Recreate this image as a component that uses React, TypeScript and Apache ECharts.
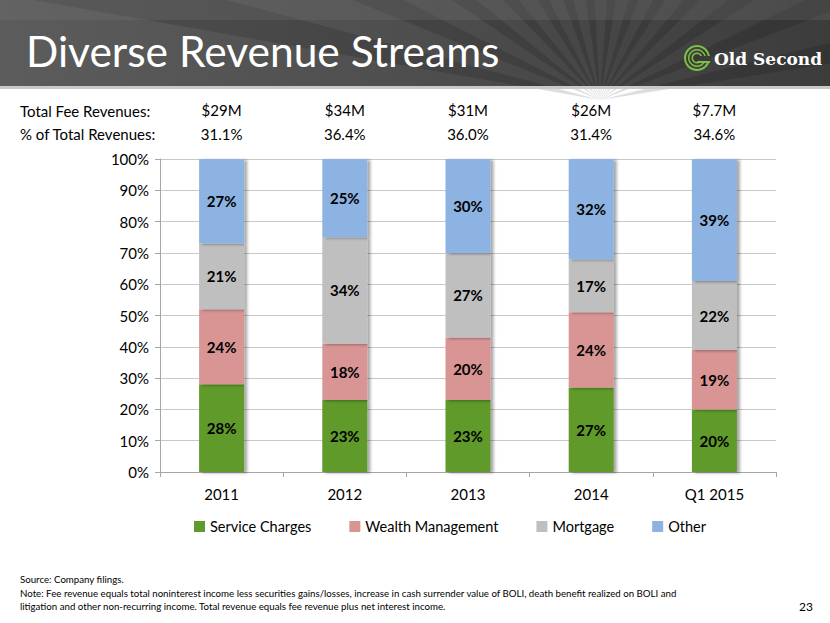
import React, { useEffect, useRef } from "react";
import * as echarts from "echarts";

const categories = ["2011", "2012", "2013", "2014", "Q1 2015"];
const serviceCharges = [28, 23, 23, 27, 20];
const wealthManagement = [24, 18, 20, 24, 19];
const mortgage = [21, 34, 27, 17, 22];
const other = [27, 25, 30, 32, 39];
const totalFeeRevenues = ["$29M", "$34M", "$31M", "$26M", "$7.7M"];
const pctOfTotalRevenues = ["31.1%", "36.4%", "36.0%", "31.4%", "34.6%"];
const seriesNames = ["Service Charges", "Wealth Management", "Mortgage", "Other"];
const seriesColors = ["#5e9a2c", "#d99594", "#bfbfbf", "#8db3e2"];

const FONT = "Lato, 'Open Sans', sans-serif";

export default function App() {
  const ref = useRef<HTMLDivElement>(null);

  useEffect(() => {
    document.body.style.margin = "0";
    const chart = echarts.init(ref.current!, null, { renderer: "svg" });

    const rays: any[] = [];
    const cx = 600, cy = 100;
    const angles = [-170, -158, -146, -134, -122, -110, -98, -86, -74, -62, -50, -38, -26, -14];
    angles.forEach((a) => {
      const r = 1200;
      const a1 = (a * Math.PI) / 180;
      const a2 = ((a + 5) * Math.PI) / 180;
      rays.push({
        type: "polygon",
        silent: true,
        shape: {
          points: [
            [cx, cy],
            [cx + r * Math.cos(a1), cy + r * Math.sin(a1)],
            [cx + r * Math.cos(a2), cy + r * Math.sin(a2)],
          ],
        },
        style: { fill: "rgba(0,0,0,0.13)" },
      });
    });

    const dataSets = [serviceCharges, wealthManagement, mortgage, other];
    const noteStyle = { fill: "#000", fontSize: 9.7, fontFamily: FONT, verticalAlign: "middle" };

    chart.setOption({
      animation: false,
      textStyle: { fontFamily: FONT },
      grid: { left: 160, right: 54, top: 159, bottom: 151 },
      legend: {
        left: 189,
        top: 514,
        icon: "rect",
        itemWidth: 11,
        itemHeight: 11,
        itemGap: 38,
        textStyle: { fontSize: 14.5, color: "#000", fontFamily: FONT },
        data: seriesNames,
      },
      xAxis: [
        {
          type: "category",
          data: categories,
          axisLine: { lineStyle: { color: "#a6a6a6" } },
          axisTick: { show: true, lineStyle: { color: "#a6a6a6" }, length: 5 },
          axisLabel: { fontSize: 15, color: "#000", margin: 14, fontFamily: FONT },
        },
        {
          type: "category",
          position: "top",
          data: categories,
          axisLine: { show: false },
          axisTick: { show: false },
          axisLabel: {
            margin: 13,
            fontFamily: FONT,
            fontSize: 15,
            color: "#000",
            lineHeight: 24,
            formatter: (_v: string, i: number) => `${totalFeeRevenues[i]}\n${pctOfTotalRevenues[i]}`,
          },
        },
      ],
      yAxis: {
        type: "value",
        min: 0,
        max: 100,
        interval: 10,
        axisLine: { show: true, lineStyle: { color: "#a6a6a6" } },
        axisTick: { show: true, lineStyle: { color: "#a6a6a6" }, length: 5 },
        splitLine: { lineStyle: { color: "#c8c8c8" } },
        axisLabel: { formatter: "{value}%", fontSize: 15, color: "#000", margin: 11, fontFamily: FONT },
      },
      series: dataSets.map((d, i) => ({
        name: seriesNames[i],
        type: "bar",
        stack: "total",
        barWidth: 45,
        data: d,
        itemStyle: {
          color: seriesColors[i],
          shadowColor: "rgba(0,0,0,0.35)",
          shadowBlur: 3,
          shadowOffsetX: 3,
          shadowOffsetY: 1,
        },
        label: {
          show: true,
          position: "inside",
          formatter: "{c}%",
          fontSize: 15,
          fontWeight: "bold",
          color: "#000",
          fontFamily: FONT,
        },
      })),
      graphic: [
        {
          type: "rect",
          silent: true,
          shape: { x: 0, y: 0, width: 830, height: 86 },
          style: {
            fill: new echarts.graphic.LinearGradient(0, 0, 1, 0, [
              { offset: 0, color: "#5c5c5c" },
              { offset: 0.5, color: "#4e4e4e" },
              { offset: 1, color: "#3c3c3c" },
            ]),
          },
        },
        ...rays,
        {
          type: "rect",
          silent: true,
          shape: { x: 0, y: 0, width: 830, height: 20 },
          style: { fill: "rgba(120,120,120,0.25)" },
        },
        {
          type: "rect",
          silent: true,
          shape: { x: 0, y: 86, width: 830, height: 3 },
          style: { fill: "#c9c9c9" },
        },
        {
          type: "text",
          x: 26,
          y: 50,
          style: {
            text: "Diverse Revenue Streams",
            fill: "#ffffff",
            fontSize: 42.5,
            fontFamily: FONT,
            verticalAlign: "middle",
          },
        },
        {
          type: "group",
          x: 697,
          y: 58,
          children: [
            { type: "ring", shape: { cx: 0, cy: 0, r: 13, r0: 11 }, style: { fill: "#7dc242" } },
            { type: "ring", shape: { cx: 0, cy: 0, r: 9, r0: 7.5 }, style: { fill: "#7dc242" } },
            { type: "ring", shape: { cx: 0, cy: 0, r: 5.5, r0: 4 }, style: { fill: "#7dc242" } },
            { type: "rect", shape: { x: 3, y: -2, width: 11, height: 6 }, style: { fill: "#3c3c3c" } },
            { type: "line", shape: { x1: 0, y1: 4, x2: 13, y2: 4 }, style: { stroke: "#7dc242", lineWidth: 2 } },
          ],
        },
        {
          type: "text",
          x: 714,
          y: 59,
          style: {
            text: "Old Second",
            fill: "#ffffff",
            fontSize: 17,
            fontWeight: "bold",
            fontFamily: "'DejaVu Serif', serif",
            verticalAlign: "middle",
          },
        },
        {
          type: "text",
          x: 20,
          y: 111,
          style: { text: "Total Fee Revenues:", fill: "#000", fontSize: 15, fontFamily: FONT, verticalAlign: "middle" },
        },
        {
          type: "text",
          x: 20,
          y: 134,
          style: { text: "% of Total Revenues:", fill: "#000", fontSize: 15, fontFamily: FONT, verticalAlign: "middle" },
        },
        { type: "text", x: 20, y: 579, style: { text: "Source: Company filings.", ...noteStyle } },
        {
          type: "text",
          x: 20,
          y: 593,
          style: {
            text: "Note: Fee revenue equals total noninterest income less securities gains/losses, increase in cash surrender value of BOLI, death benefit realized on BOLI and",
            ...noteStyle,
          },
        },
        {
          type: "text",
          x: 20,
          y: 606,
          style: {
            text: "litigation and other non-recurring income. Total revenue equals fee revenue plus net interest income.",
            ...noteStyle,
          },
        },
        {
          type: "text",
          x: 813,
          y: 606,
          style: { text: "23", fill: "#000", fontSize: 12, fontFamily: FONT, align: "right", verticalAlign: "middle" },
        },
      ],
    });

    return () => chart.dispose();
  }, []);

  return <div ref={ref} style={{ width: 830, height: 623, position: "absolute", left: 0, top: 0, background: "#fff" }} />;
}
